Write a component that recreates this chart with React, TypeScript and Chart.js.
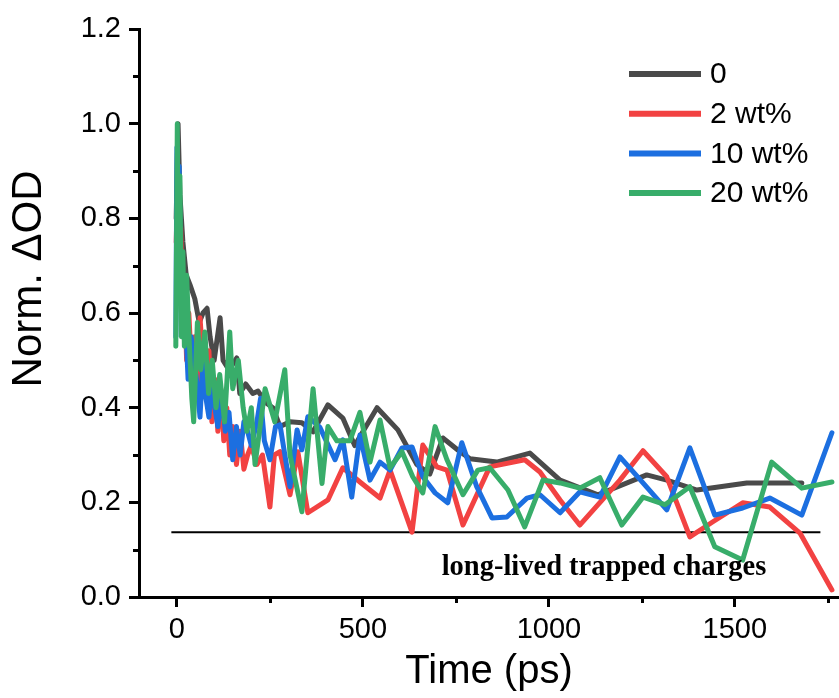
import React, { useEffect, useRef } from "react";
import { Chart, registerables } from "chart.js";

Chart.register(...registerables);

const seriesLabels = ["0", "2 wt%", "10 wt%", "20 wt%"];
const seriesColors = ["#4a4a4a", "#f24242", "#1c6fe0", "#38ad6a"];

const gray0Times = [-2, 3, 8, 16, 25, 35, 48, 60, 70, 81, 89, 100, 116, 124, 140, 161, 169, 185, 204, 218, 240, 258, 277, 304, 336, 366, 406, 446, 478, 538, 594, 645, 680, 715, 761, 788, 860, 949, 1030, 1132, 1263, 1317, 1398, 1532, 1680];
const gray0Values = [0.8, 1.0, 0.85, 0.75, 0.68, 0.66, 0.63, 0.58, 0.6, 0.61, 0.55, 0.5, 0.59, 0.5, 0.48, 0.505, 0.43, 0.45, 0.43, 0.435, 0.41, 0.4, 0.36, 0.37, 0.368, 0.349, 0.406, 0.378, 0.32, 0.4, 0.353, 0.28, 0.26, 0.336, 0.307, 0.292, 0.285, 0.304, 0.247, 0.216, 0.258, 0.247, 0.226, 0.241, 0.241];

const red2Times = [-2, 3, 6, 10, 15, 20, 26, 32, 40, 48, 56, 62, 70, 78, 86, 94, 102, 110, 118, 126, 134, 142, 150, 160, 170, 180, 190, 200, 215, 230, 250, 262, 277, 304, 325, 352, 406, 446, 492, 546, 573, 632, 661, 699, 726, 769, 841, 935, 976, 1030, 1083, 1191, 1253, 1317, 1379, 1441, 1521, 1594, 1675, 1761];
const red2Values = [0.75, 0.9, 0.7, 0.78, 0.6, 0.66, 0.5, 0.6, 0.47, 0.55, 0.44, 0.59, 0.5, 0.42, 0.52, 0.37, 0.46, 0.35, 0.44, 0.33, 0.4, 0.3, 0.36, 0.28, 0.35, 0.27, 0.3, 0.32, 0.28, 0.3, 0.19, 0.3, 0.307, 0.216, 0.307, 0.178, 0.205, 0.273, 0.243, 0.209, 0.268, 0.137, 0.321, 0.275, 0.268, 0.152, 0.275, 0.29, 0.264, 0.205, 0.152, 0.247, 0.309, 0.254, 0.127, 0.159, 0.199, 0.19, 0.135, 0.015];

const blue10Times = [-3, 0, 3, 6, 10, 14, 20, 26, 30, 38, 46, 54, 62, 70, 78, 86, 94, 100, 110, 120, 130, 140, 150, 160, 170, 180, 190, 200, 215, 225, 235, 250, 265, 277, 304, 323, 336, 352, 384, 425, 446, 470, 492, 519, 546, 573, 605, 632, 661, 694, 728, 766, 806, 847, 887, 941, 976, 1030, 1083, 1137, 1191, 1253, 1317, 1379, 1446, 1521, 1594, 1680, 1761];
const blue10Values = [0.55, 0.95, 0.73, 0.91, 0.62, 0.7, 0.58, 0.53, 0.46, 0.55, 0.5, 0.45, 0.38, 0.5, 0.42, 0.38, 0.45, 0.41, 0.36, 0.43, 0.35, 0.39, 0.29, 0.36, 0.3, 0.37, 0.35, 0.32, 0.37, 0.42, 0.33, 0.29, 0.36, 0.364, 0.233, 0.353, 0.311, 0.381, 0.359, 0.29, 0.332, 0.211, 0.342, 0.247, 0.285, 0.268, 0.315, 0.317, 0.254, 0.22, 0.199, 0.326, 0.233, 0.167, 0.169, 0.209, 0.216, 0.178, 0.222, 0.211, 0.296, 0.241, 0.184, 0.315, 0.173, 0.188, 0.209, 0.173, 0.347];

const green20Times = [-3, 1, 4, 8, 12, 16, 20, 26, 32, 40, 45, 55, 64, 75, 85, 95, 105, 115, 128, 142, 150, 165, 178, 188, 200, 210, 237, 263, 290, 304, 336, 366, 390, 406, 430, 465, 492, 519, 546, 573, 605, 634, 661, 694, 726, 769, 809, 841, 890, 935, 984, 1030, 1083, 1137, 1196, 1253, 1312, 1379, 1446, 1521, 1599, 1680, 1761];
const green20Values = [0.53, 1.0, 0.62, 0.89, 0.55, 0.73, 0.53, 0.68, 0.56, 0.42, 0.37, 0.58, 0.48, 0.56, 0.43, 0.5, 0.4, 0.47, 0.37, 0.56, 0.44, 0.5, 0.4, 0.35, 0.4, 0.28, 0.44, 0.37, 0.48, 0.3, 0.18, 0.44, 0.24, 0.36, 0.33, 0.33, 0.39, 0.285, 0.374, 0.273, 0.307, 0.254, 0.22, 0.36, 0.29, 0.216, 0.268, 0.273, 0.226, 0.148, 0.247, 0.241, 0.23, 0.252, 0.152, 0.211, 0.195, 0.233, 0.106, 0.078, 0.285, 0.23, 0.243];

const thresholdTimes = [-15, 1730];
const thresholdValue = 0.137;
const annotationText = "long-lived trapped charges";
const annotationTime = 1148;
const annotationValue = 0.047;

const xTitle = "Time (ps)";
const yTitle = "Norm. ΔOD";

const xMajorTicks = [0, 500, 1000, 1500];
const xMinorTicks = [250, 750, 1250, 1750];
const yMajorTicks = [0, 0.2, 0.4, 0.6, 0.8, 1.0, 1.2];
const yMinorTicks = [0.1, 0.3, 0.5, 0.7, 0.9, 1.1];

const allTimes = [gray0Times, red2Times, blue10Times, green20Times];
const allValues = [gray0Values, red2Values, blue10Values, green20Values];

const FONT = "'Liberation Sans', Arial, sans-serif";

const minorTicksPlugin = {
  id: "minorTicks",
  afterDraw(chart: any) {
    const { ctx, scales } = chart;
    const x = scales.x;
    const y = scales.y;
    ctx.save();
    ctx.strokeStyle = "#000";
    ctx.lineWidth = 3;
    yMinorTicks.forEach((v) => {
      const py = Math.round(y.getPixelForValue(v)) + 0.5;
      ctx.beginPath();
      ctx.moveTo(y.right - 6, py);
      ctx.lineTo(y.right, py);
      ctx.stroke();
    });
    xMinorTicks.forEach((v) => {
      const px = Math.round(x.getPixelForValue(v)) + 0.5;
      ctx.beginPath();
      ctx.moveTo(px, x.top);
      ctx.lineTo(px, x.top + 6);
      ctx.stroke();
    });
    ctx.restore();
  },
};

const yTitlePlugin = {
  id: "yTitle",
  afterDraw(chart: any) {
    const { ctx, chartArea } = chart;
    ctx.save();
    ctx.fillStyle = "#000";
    ctx.font = `42px ${FONT}`;
    ctx.textAlign = "center";
    ctx.textBaseline = "middle";
    ctx.translate(29, chartArea.top + (chartArea.bottom - chartArea.top) * 0.44);
    ctx.rotate(-Math.PI / 2);
    ctx.fillText(yTitle, 0, 0);
    ctx.restore();
  },
};

const annotationPlugin = {
  id: "annotationText",
  afterDatasetsDraw(chart: any) {
    const { ctx, scales } = chart;
    ctx.save();
    ctx.fillStyle = "#000";
    ctx.font = "bold 28.5px 'Liberation Serif', 'Times New Roman', serif";
    ctx.textAlign = "center";
    ctx.textBaseline = "alphabetic";
    ctx.fillText(annotationText, scales.x.getPixelForValue(annotationTime), scales.y.getPixelForValue(annotationValue));
    ctx.restore();
  },
};

const legendPlugin = {
  id: "customLegend",
  afterDraw(chart: any) {
    const { ctx, chartArea } = chart;
    const lineStart = chartArea.right - 210;
    const lineEnd = chartArea.right - 138;
    const textX = chartArea.right - 129;
    const top = chartArea.top + 45;
    const gap = 39.7;
    ctx.save();
    ctx.font = `30px ${FONT}`;
    ctx.textAlign = "left";
    ctx.textBaseline = "middle";
    seriesLabels.forEach((label, i) => {
      const yy = top + i * gap;
      ctx.strokeStyle = seriesColors[i];
      ctx.lineWidth = 6;
      ctx.beginPath();
      ctx.moveTo(lineStart, yy);
      ctx.lineTo(lineEnd, yy);
      ctx.stroke();
      ctx.fillStyle = "#000";
      ctx.fillText(label, textX, yy + 1);
    });
    ctx.restore();
  },
};

export default function App() {
  const canvasRef = useRef<HTMLCanvasElement | null>(null);

  useEffect(() => {
    document.body.style.margin = "0";
    const canvas = canvasRef.current;
    if (!canvas) return;

    const datasets: any[] = seriesLabels.map((label, i) => ({
      label,
      data: allTimes[i].map((t, j) => ({ x: t, y: allValues[i][j] })),
      borderColor: seriesColors[i],
      backgroundColor: seriesColors[i],
      borderWidth: 5,
      pointRadius: 0,
      tension: 0,
      fill: false,
      borderJoinStyle: "round",
      borderCapStyle: "round",
      order: 4 - i,
    }));
    datasets.push({
      label: "threshold",
      data: thresholdTimes.map((t) => ({ x: t, y: thresholdValue })),
      borderColor: "#000",
      borderWidth: 2,
      pointRadius: 0,
      fill: false,
      order: 10,
    });

    const chart = new Chart(canvas, {
      type: "line",
      data: { datasets },
      options: {
        animation: false,
        responsive: false,
        maintainAspectRatio: false,
        layout: { padding: { top: 29, right: 0, left: 0, bottom: 0 } },
        plugins: { legend: { display: false }, tooltip: { enabled: false } },
        scales: {
          x: {
            type: "linear",
            min: -102,
            max: 1780,
            afterBuildTicks: (s: any) => {
              s.ticks = xMajorTicks.map((v) => ({ value: v }));
            },
            afterFit: (s: any) => {
              s.height = 101;
            },
            ticks: {
              color: "#000",
              font: { family: FONT, size: 29 },
              padding: 6,
              maxRotation: 0,
              callback: (v: any) => String(v),
            },
            grid: {
              display: true,
              drawOnChartArea: false,
              drawTicks: true,
              tickLength: 10,
              tickWidth: 3,
              tickColor: "#000",
            },
            border: { display: true, color: "#000", width: 3 },
            title: {
              display: true,
              text: xTitle,
              color: "#000",
              font: { family: FONT, size: 40 },
              padding: { top: 0, bottom: 2 },
            },
          },
          y: {
            type: "linear",
            min: 0,
            max: 1.2,
            afterBuildTicks: (s: any) => {
              s.ticks = yMajorTicks.map((v) => ({ value: v }));
            },
            afterFit: (s: any) => {
              s.width = 139;
            },
            ticks: {
              color: "#000",
              font: { family: FONT, size: 29 },
              padding: 8,
              callback: (v: any) => Number(v).toFixed(1),
            },
            grid: {
              display: true,
              drawOnChartArea: false,
              drawTicks: true,
              tickLength: 10,
              tickWidth: 3,
              tickColor: "#000",
            },
            border: { display: true, color: "#000", width: 3 },
            title: { display: false },
          },
        },
      },
      plugins: [minorTicksPlugin, annotationPlugin, legendPlugin, yTitlePlugin],
    } as any);

    return () => chart.destroy();
  }, []);

  return (
    <div style={{ position: "absolute", left: 0, top: 0, width: 839, height: 698 }}>
      <canvas ref={canvasRef} width={839} height={698} style={{ display: "block" }} />
    </div>
  );
}
